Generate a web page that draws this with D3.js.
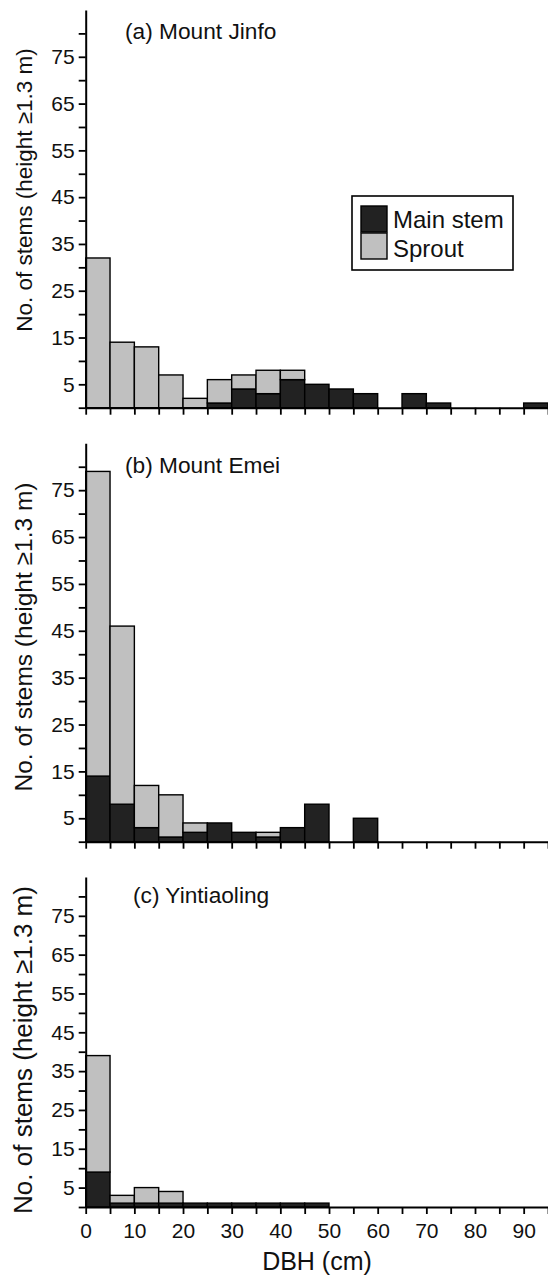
<!DOCTYPE html>
<html>
<head>
<meta charset="utf-8">
<script src="https://cdn.jsdelivr.net/npm/d3@7"></script>
<style>
  html, body { margin: 0; padding: 0; background: #fff; }
  svg { display: block; font-family: "Liberation Sans", Arial, Helvetica, sans-serif; }
</style>
</head>
<body>
<script>
// ---- Data ----
const binStarts = [0,5,10,15,20,25,30,35,40,45,50,55,60,65,70,75,80,85,90]; // DBH class lower bounds (cm)
const binWidth = 5;

const jinfoMain   = [0,0,0,0,0,1,4,3,6,5,4,3,0,3,1,0,0,0,1];
const jinfoSprout = [32,14,13,7,2,5,3,5,2,0,0,0,0,0,0,0,0,0,0];

const emeiMain    = [14,8,3,1,2,4,2,1,3,8,0,5,0,0,0,0,0,0,0];
const emeiSprout  = [65,38,9,9,2,0,0,1,0,0,0,0,0,0,0,0,0,0,0];

const yinMain     = [9,1,1,1,1,1,1,1,1,1,0,0,0,0,0,0,0,0,0];
const yinSprout   = [30,2,4,3,0,0,0,0,0,0,0,0,0,0,0,0,0,0,0];

const panelTitles = ["(a) Mount Jinfo", "(b) Mount Emei", "(c) Yintiaoling"];
const yTickValues = [0,5,10,15,20,25,30,35,40,45,50,55,60,65,70,75,80];
const yTickLabels = [5,15,25,35,45,55,65,75];
const xTickValues = [0,5,10,15,20,25,30,35,40,45,50,55,60,65,70,75,80,85,90,95];
const xTickLabels = [0,10,20,30,40,50,60,70,80,90];
const legendLabels = ["Main stem", "Sprout"];
const yAxisTitle = "No. of stems (height \u22651.3 m)";
const xAxisTitle = "DBH (cm)";

// ---- Layout ----
const W = 548, H = 1280;
const colMain = "#222222", colSprout = "#c0c0c0";
const panels = [
  { main: jinfoMain, sprout: jinfoSprout, y0: 407.7, yTop: 10,    titleX: 125, titleY: 39,  labCY: 190,  labFS: 22.5, legend: true,  xLabels: false },
  { main: emeiMain,  sprout: emeiSprout,  y0: 841.7, yTop: 443.3, titleX: 125, titleY: 473, labCY: 637,  labFS: 24.5, legend: false, xLabels: false },
  { main: yinMain,   sprout: yinSprout,   y0: 1207,  yTop: 877,   titleX: 133, titleY: 903, labCY: 1050, labFS: 26,   legend: false, xLabels: true }
];

const svg = d3.select("body").append("svg").attr("width", W).attr("height", H);
const x = d3.scaleLinear().domain([0, 95]).range([85.7, 548]);

panels.forEach((p, i) => {
  const y = d3.scaleLinear().domain([0, 85]).range([p.y0, p.yTop]);
  const g = svg.append("g");

  // bars: main stem at bottom, sprout stacked on top
  binStarts.forEach((b, k) => {
    const m = p.main[k], s = p.sprout[k];
    if (m > 0) {
      g.append("rect")
        .attr("x", x(b)).attr("width", x(b + binWidth) - x(b))
        .attr("y", y(m)).attr("height", y(0) - y(m))
        .attr("fill", colMain).attr("stroke", "#000").attr("stroke-width", 1.4);
    }
    if (s > 0) {
      g.append("rect")
        .attr("x", x(b)).attr("width", x(b + binWidth) - x(b))
        .attr("y", y(m + s)).attr("height", y(m) - y(m + s))
        .attr("fill", colSprout).attr("stroke", "#000").attr("stroke-width", 1.4);
    }
  });

  // y axis
  const yAxis = d3.axisLeft(y).tickValues(yTickValues).tickSize(7).tickSizeOuter(0).tickPadding(4)
    .tickFormat(d => yTickLabels.includes(d) ? d : "");
  const ya = g.append("g").attr("transform", `translate(${x(0)},0)`).call(yAxis);
  ya.select(".domain").attr("stroke", "#000").attr("stroke-width", 2);
  ya.selectAll(".tick line").attr("stroke", "#000").attr("stroke-width", 1.8);
  ya.selectAll(".tick text").attr("font-size", 21).attr("fill", "#111")
    .attr("font-family", "'Liberation Sans', Arial, sans-serif");

  // x axis
  const xAxis = d3.axisBottom(x).tickValues(xTickValues).tickSize(7).tickSizeOuter(0).tickPadding(9)
    .tickFormat(d => (p.xLabels && xTickLabels.includes(d)) ? d : "");
  const xa = g.append("g").attr("transform", `translate(0,${p.y0})`).call(xAxis);
  xa.select(".domain").attr("stroke", "#000").attr("stroke-width", 2);
  xa.selectAll(".tick line").attr("stroke", "#000").attr("stroke-width", 1.8);
  xa.selectAll(".tick text").attr("font-size", 21).attr("fill", "#111")
    .attr("font-family", "'Liberation Sans', Arial, sans-serif");

  // panel title
  g.append("text").attr("x", p.titleX).attr("y", p.titleY)
    .attr("font-size", 22.7).attr("fill", "#111").text(panelTitles[i]);

  // y axis title
  g.append("text")
    .attr("transform", `translate(32,${p.labCY}) rotate(-90)`)
    .attr("text-anchor", "middle").attr("font-size", p.labFS).attr("fill", "#111")
    .text(yAxisTitle);

  // legend
  if (p.legend) {
    const lg = g.append("g");
    lg.append("rect").attr("x", 352).attr("y", 196).attr("width", 161).attr("height", 74)
      .attr("fill", "#fff").attr("stroke", "#000").attr("stroke-width", 1.6);
    const cols = [colMain, colSprout];
    legendLabels.forEach((lab, j) => {
      lg.append("rect").attr("x", 361).attr("y", 206 + j * 27).attr("width", 26).attr("height", 26)
        .attr("fill", cols[j]).attr("stroke", "#000").attr("stroke-width", 1.4);
      lg.append("text").attr("x", 393).attr("y", 228 + j * 29)
        .attr("font-size", 24).attr("fill", "#111").text(lab);
    });
  }

  if (p.xLabels) {
    g.append("text").attr("x", 317).attr("y", 1270).attr("text-anchor", "middle")
      .attr("font-size", 25).attr("fill", "#111").text(xAxisTitle);
  }
});
</script>
</body>
</html>
